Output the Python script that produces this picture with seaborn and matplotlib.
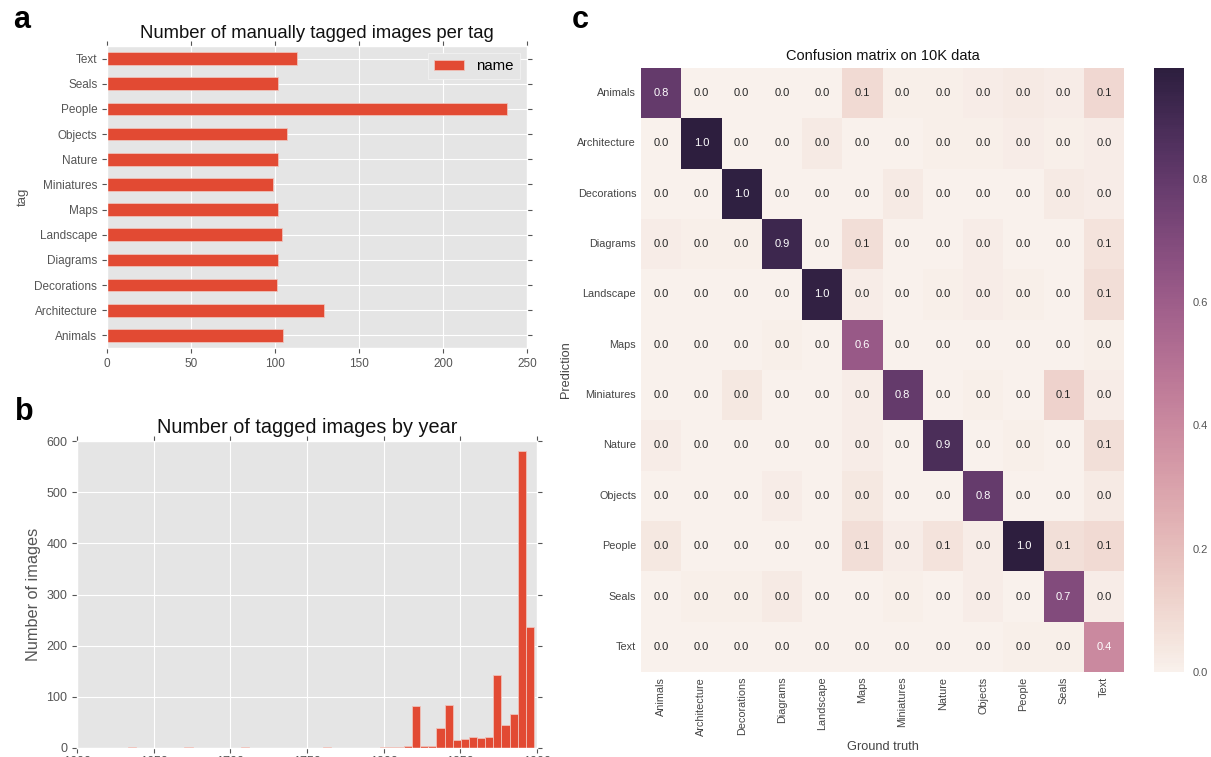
import numpy as np
import pandas as pd
import matplotlib
matplotlib.use("Agg")
import matplotlib.pyplot as plt
import seaborn as sns

# ---- data ----
tags = ['Animals', 'Architecture', 'Decorations', 'Diagrams', 'Landscape', 'Maps',
        'Miniatures', 'Nature', 'Objects', 'People', 'Seals', 'Text']
tag_counts = [105, 129, 101, 102, 104, 102, 99, 102, 107, 238, 102, 113]

# histogram of years: 50 bins between first_year and last_year
first_year = 1633
last_year = 1898
year_counts = [1, 0, 0, 0, 0, 0, 0, 1, 0, 0,
               0, 0, 0, 0, 1, 0, 0, 0, 0, 0,
               0, 0, 0, 0, 1, 0, 0, 0, 0, 0,
               0, 1, 1, 1, 4, 83, 4, 4, 39, 85,
               15, 17, 22, 19, 22, 142, 44, 67, 580, 237]
year_ticks = [1600, 1650, 1700, 1750, 1800, 1850, 1900]

# confusion matrix (rows = prediction, cols = ground truth)
conf = [
    [0.80, 0.00, 0.00, 0.00, 0.00, 0.09, 0.01, 0.01, 0.02, 0.03, 0.02, 0.10],
    [0.00, 0.98, 0.00, 0.00, 0.03, 0.00, 0.00, 0.01, 0.01, 0.02, 0.01, 0.02],
    [0.00, 0.00, 0.97, 0.00, 0.00, 0.00, 0.03, 0.00, 0.00, 0.00, 0.03, 0.02],
    [0.02, 0.01, 0.01, 0.92, 0.00, 0.08, 0.00, 0.00, 0.02, 0.00, 0.00, 0.06],
    [0.00, 0.00, 0.00, 0.00, 0.96, 0.02, 0.00, 0.01, 0.02, 0.01, 0.00, 0.08],
    [0.00, 0.00, 0.00, 0.01, 0.00, 0.62, 0.00, 0.00, 0.00, 0.00, 0.00, 0.01],
    [0.00, 0.00, 0.04, 0.00, 0.00, 0.02, 0.80, 0.00, 0.01, 0.00, 0.12, 0.02],
    [0.02, 0.00, 0.00, 0.00, 0.00, 0.02, 0.00, 0.88, 0.00, 0.01, 0.00, 0.07],
    [0.00, 0.00, 0.00, 0.02, 0.00, 0.04, 0.00, 0.00, 0.79, 0.00, 0.00, 0.03],
    [0.04, 0.00, 0.00, 0.00, 0.00, 0.08, 0.02, 0.06, 0.02, 0.98, 0.07, 0.09],
    [0.00, 0.01, 0.01, 0.03, 0.00, 0.00, 0.01, 0.00, 0.02, 0.00, 0.70, 0.02],
    [0.00, 0.00, 0.00, 0.00, 0.00, 0.00, 0.00, 0.00, 0.00, 0.01, 0.01, 0.40],
]

plt.style.use('ggplot')
plt.rcParams['font.family'] = ['Liberation Sans', 'DejaVu Sans']
red = '#E24A33'
W, H = 1211, 757

def box(l, t, r, b):
    return [l / W, 1 - b / H, (r - l) / W, (b - t) / H]

fig = plt.figure(figsize=(W / 100, H / 100), dpi=100)

# ---------------- panel a ----------------
ax1 = fig.add_axes(box(107, 46, 527, 348))
sns.barplot(x=tag_counts, y=tags, order=tags[::-1], orient='h', color=red,
            saturation=1, width=0.5, errorbar=None, label='name',
            edgecolor='#F0C0B8', linewidth=0.6, ax=ax1)
ax1.set_xlim(0, 250)
ax1.set_xticks([0, 50, 100, 150, 200, 250])
ax1.yaxis.grid(True)
ax1.xaxis.grid(True)
ax1.tick_params(top=True, right=True, labelsize=8.5, colors='#555555')
ax1.set_ylabel('tag', fontsize=9.5, color='#555555')
ax1.set_xlabel('')
ax1.set_title('Number of manually tagged images per tag', fontsize=13.3, color='#111111')
leg = ax1.legend(loc='upper right', fontsize=10.8, facecolor='#E5E5E5', edgecolor='#F4F4F4',
                 framealpha=1, fancybox=False)
fig.text(22 / W, 1 - 20 / H, 'a', fontsize=22, fontweight='bold', ha='center', va='center')

# ---------------- panel b ----------------
ax2 = fig.add_axes(box(77, 441, 537, 748))
edges = np.linspace(first_year, last_year, len(year_counts) + 1).tolist()
hist_df = pd.DataFrame({'year': [(a + b) / 2 for a, b in zip(edges[:-1], edges[1:])],
                        'n': year_counts})
sns.histplot(data=hist_df, x='year', weights='n', bins=edges, color=red, alpha=1,
             edgecolor='#F0C0B8', linewidth=0.6, ax=ax2)
ax2.set_xlim(year_ticks[0], year_ticks[-1])
ax2.set_xticks(year_ticks)
ax2.set_ylim(0, 600)
ax2.set_yticks(range(0, 601, 100))
ax2.tick_params(top=True, right=True, labelsize=9, colors='#555555')
ax2.tick_params(axis='x', pad=2)
ax2.set_ylabel('Number of images', fontsize=11.7, color='#555555')
ax2.set_xlabel('')
ax2.set_title('Number of tagged images by year', fontsize=14.3, color='#111111')
fig.text(24 / W, 1 - 412 / H, 'b', fontsize=22, fontweight='bold', ha='center', va='center')

# ---------------- panel c ----------------
ax3 = fig.add_axes(box(641, 68, 1124, 672))
cax = fig.add_axes(box(1154, 68, 1184, 672))
cm_df = pd.DataFrame(conf, index=tags, columns=tags)
cmap = sns.cubehelix_palette(light=.95, as_cmap=True)
sns.heatmap(cm_df, annot=True, fmt='.1f', cmap=cmap, vmin=0, ax=ax3, cbar_ax=cax,
            annot_kws={'size': 8}, xticklabels=tags, yticklabels=tags)
ax3.set_facecolor('white')
ax3.grid(False)
ax3.tick_params(length=0, labelsize=7.8, colors='#444444')
plt.setp(ax3.get_xticklabels(), rotation=90)
plt.setp(ax3.get_yticklabels(), rotation=0)
ax3.set_xlabel('Ground truth', fontsize=9.2, color='#444444')
ax3.set_ylabel('Prediction', fontsize=9.2, color='#444444')
ax3.set_title('Confusion matrix on 10K data', fontsize=10.5, color='#111111')
cax.grid(False)
cax.set_yticks([0.0, 0.2, 0.4, 0.6, 0.8])
cax.tick_params(length=0, labelsize=8, colors='#555555', pad=6)
for s in cax.spines.values():
    s.set_visible(False)
fig.text(580 / W, 1 - 20 / H, 'c', fontsize=22, fontweight='bold', ha='center', va='center')

fig.savefig('out.png', dpi=100)
